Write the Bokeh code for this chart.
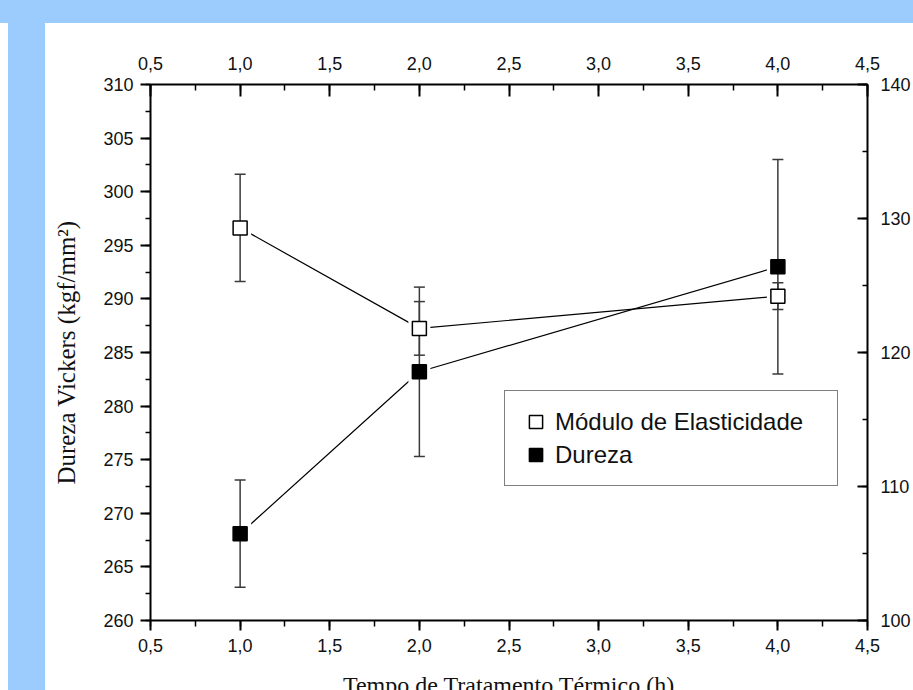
from bokeh.plotting import figure
from bokeh.models import (Range1d, LinearAxis, SingleIntervalTicker, CustomJSTickFormatter,
                          Legend, LegendItem, Spacer)
from bokeh.layouts import row, column
from bokeh.embed import file_html
from bokeh.resources import INLINE

# Heat-treatment time (h)
tempo = [1.0, 2.0, 4.0]
# Vickers hardness (kgf/mm2) and its standard deviation
dureza = [268.1, 283.2, 293.0]
dureza_err = [5.0, 7.9, 10.0]
# Elastic modulus (right axis) and its standard deviation
modulo = [129.3, 121.8, 124.2]
modulo_err = [4.0, 2.0, 1.0]

x_label = "Tempo de Tratamento Térmico (h)"
y_label = "Dureza Vickers (kgf/mm²)"
serie_modulo = "Módulo de Elasticidade"
serie_dureza = "Dureza"

SLIDE_BLUE = "#9CCBFE"
TICK_FONT = "Liberation Sans"
LABEL_FONT = "Liberation Serif"

p = figure(x_range=Range1d(0.5, 4.5), y_range=Range1d(260, 310),
           output_backend="svg", toolbar_location=None,
           x_axis_location=None, y_axis_location=None,
           min_border_left=105, min_border_right=46,
           min_border_top=61, min_border_bottom=70)
p.frame_width = 717
p.frame_height = 536
p.extra_y_ranges = {"mod": Range1d(100, 140)}
p.grid.visible = False
p.outline_line_color = None
p.background_fill_color = "white"
p.border_fill_color = "white"

comma = CustomJSTickFormatter(code="return tick.toFixed(1).replace('.', ',');")


def style_axis(ax, standoff):
    ax.axis_line_width = 2
    ax.axis_line_color = "black"
    ax.major_tick_line_width = 2
    ax.minor_tick_line_width = 1.5
    ax.major_tick_line_color = "black"
    ax.minor_tick_line_color = "black"
    ax.major_label_text_font = TICK_FONT
    ax.major_label_text_font_size = "18px"
    ax.major_label_text_color = "#111111"
    ax.major_label_standoff = standoff
    ax.axis_label_text_font = LABEL_FONT
    ax.axis_label_text_font_style = "normal"
    ax.axis_label_text_font_size = "25px"
    ax.axis_label_text_color = "#111111"


bottom = LinearAxis(ticker=SingleIntervalTicker(interval=0.5, num_minor_ticks=2),
                    formatter=comma, axis_label=x_label)
style_axis(bottom, 8)
bottom.major_tick_out, bottom.major_tick_in = 10, 0
bottom.minor_tick_out, bottom.minor_tick_in = 6, 0
bottom.axis_label_text_font_size = "24px"
bottom.axis_label_standoff = 17

top = LinearAxis(ticker=SingleIntervalTicker(interval=0.5, num_minor_ticks=2), formatter=comma)
style_axis(top, 15)
top.major_tick_out, top.major_tick_in = 0, 12
top.minor_tick_out, top.minor_tick_in = 0, 6

left = LinearAxis(ticker=SingleIntervalTicker(interval=5, num_minor_ticks=2), axis_label=y_label)
style_axis(left, 7)
left.major_tick_out, left.major_tick_in = 10, 0
left.minor_tick_out, left.minor_tick_in = 5, 0
left.axis_label_standoff = 20

right = LinearAxis(y_range_name="mod", ticker=SingleIntervalTicker(interval=10, num_minor_ticks=2))
style_axis(right, 13)
right.major_tick_out, right.major_tick_in = 0, 10
right.minor_tick_out, right.minor_tick_in = 0, 5

p.add_layout(bottom, "below")
p.add_layout(top, "above")
p.add_layout(left, "left")
p.add_layout(right, "right")

# connecting lines
p.line(tempo, dureza, line_color="black", line_width=1.2)
p.line(tempo, modulo, y_range_name="mod", line_color="black", line_width=1.2)

# white halos leave a small gap between the lines and the markers
p.scatter(tempo, dureza, marker="square", size=22, fill_color="white", line_color=None)
p.scatter(tempo, modulo, y_range_name="mod", marker="square", size=22,
          fill_color="white", line_color=None)

# error bars
ERR = "#3a3a3a"
d_lo = [v - e for v, e in zip(dureza, dureza_err)]
d_hi = [v + e for v, e in zip(dureza, dureza_err)]
m_lo = [v - e for v, e in zip(modulo, modulo_err)]
m_hi = [v + e for v, e in zip(modulo, modulo_err)]

p.segment(tempo, d_lo, tempo, d_hi, line_color=ERR, line_width=1.5)
p.segment(tempo, m_lo, tempo, m_hi, y_range_name="mod", line_color=ERR, line_width=1.5)
for ys, rng in ((d_lo, "default"), (d_hi, "default"), (m_lo, "mod"), (m_hi, "mod")):
    p.scatter(tempo, ys, y_range_name=rng, marker="dash", size=11,
              line_color=ERR, line_width=1.5)

# markers
r_dur = p.scatter(tempo, dureza, marker="square", size=14,
                  fill_color="black", line_color="black", line_width=1.5)
r_mod = p.scatter(tempo, modulo, y_range_name="mod", marker="square", size=14,
                  fill_color="white", line_color="black", line_width=1.5)

legend = Legend(items=[LegendItem(label=serie_modulo, renderers=[r_mod]),
                       LegendItem(label=serie_dureza, renderers=[r_dur])],
                location=(354, 134), padding=14, spacing=0, margin=0,
                glyph_width=33, glyph_height=33, label_height=33,
                label_width=268, label_standoff=3,
                label_text_font=TICK_FONT, label_text_font_size="24px",
                label_text_color="#111111",
                border_line_color="black", border_line_width=1.5,
                background_fill_color="white", background_fill_alpha=1.0)
p.add_layout(legend)

# slide background: blue band on top and a blue strip on the left
band = Spacer(width=913, height=23, styles={"background-color": SLIDE_BLUE})
edge = Spacer(width=8, height=700)
strip = Spacer(width=37, height=700, styles={"background-color": SLIDE_BLUE})
page = column(band, row(edge, strip, p, spacing=0), spacing=0)

# the slide is cropped at the window edge, so the page never scrolls
template = ("{% block postamble %}"
            "<style>html, body { overflow: hidden; }</style>"
            "{% endblock %}")

with open("out.html", "w", encoding="utf-8") as fh:
    fh.write(file_html(page, INLINE, title="Dureza e Módulo", template=template))
